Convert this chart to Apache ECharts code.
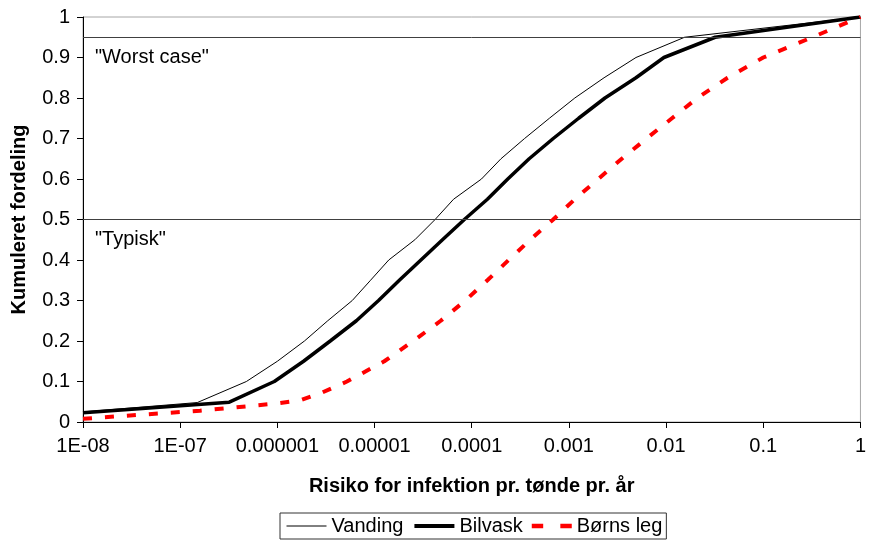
<!DOCTYPE html>
<html>
<head>
<meta charset="utf-8">
<script src="https://cdn.jsdelivr.net/npm/echarts@6/dist/echarts.min.js"></script>
<style>
html,body{margin:0;padding:0;background:#fff;}
#c{width:869px;height:542px;}
</style>
</head>
<body>
<div id="c"></div>
<script>
// Tick labels on the log x-axis (1E-08 ... 1)
var xTickLabels = ["1E-08","1E-07","0.000001","0.00001","0.0001","0.001","0.01","0.1","1"];

// Vanding
var vandingRisk = [1e-8,1.5e-7,4.8e-7,1e-6,1.9e-6,3.3e-6,5.9e-6,9.1e-6,1.4e-5,2.6e-5,4.2e-5,6.5e-5,1.26e-4,2.0e-4,3.5e-4,6.3e-4,1.15e-3,2.3e-3,4.9e-3,1.55e-2,1];
var vandingCum  = [0.025,0.048,0.1,0.15,0.2,0.25,0.3,0.35,0.4,0.45,0.5,0.55,0.6,0.65,0.7,0.75,0.8,0.85,0.9,0.95,1];

// Bilvask
var bilvaskRisk = [1e-8,3.2e-7,9.3e-7,1.86e-6,3.5e-6,6.5e-6,1.1e-5,1.8e-5,3.0e-5,5.0e-5,8.4e-5,1.45e-4,2.35e-4,3.9e-4,6.9e-4,1.26e-3,2.35e-3,4.9e-3,9.5e-3,3.2e-2,1];
var bilvaskCum  = [0.023,0.049,0.1,0.15,0.2,0.25,0.3,0.35,0.4,0.45,0.5,0.55,0.6,0.65,0.7,0.75,0.8,0.85,0.9,0.95,1];

// Børns leg
var bornsRisk = [1e-8,1.6e-7,3.7e-7,1e-6,1.75e-6,2.9e-6,5.2e-6,1.26e-5,2.5e-5,4.8e-5,8.6e-5,1.45e-4,2.4e-4,4.0e-4,6.9e-4,1.15e-3,2.0e-3,3.5e-3,6.3e-3,1.15e-2,2.1e-2,4.3e-2,0.1,0.32,1];
var bornsCum  = [0.008,0.028,0.036,0.046,0.054,0.073,0.1,0.15,0.2,0.25,0.3,0.35,0.4,0.45,0.5,0.55,0.6,0.65,0.7,0.75,0.8,0.85,0.9,0.95,1];

// Reference levels
var refLevels = [0.95, 0.5];
var refNames  = ['"Worst case"', '"Typisk"'];

function zip(xs, ys){ return xs.map(function(x,i){ return [x, ys[i]]; }); }

var FONT = 'Liberation Sans, Arial, sans-serif';
var chart = echarts.init(document.getElementById('c'), null, {renderer:'canvas'});
chart.setOption({
  animation:false,
  backgroundColor:'#fff',
  textStyle:{fontFamily:FONT},
  grid:{left:83,right:5,top:17,bottom:120,show:true,borderColor:'#a6a6a6',borderWidth:1,backgroundColor:'transparent'},
  xAxis:{
    type:'log', logBase:10, min:1e-8, max:1,
    name:'Risiko for infektion pr. tønde pr. år',
    nameLocation:'middle', nameGap:54,
    nameTextStyle:{fontSize:20,fontWeight:'bold',color:'#000',fontFamily:FONT},
    axisLine:{lineStyle:{color:'#000',width:1}},
    axisTick:{show:true,length:6,inside:false,lineStyle:{color:'#000'}},
    minorTick:{show:false},
    splitLine:{show:false},
    axisLabel:{
      fontSize:20,color:'#000',margin:14,fontFamily:FONT,
      formatter:function(v){ var e=Math.round(Math.log10(v)); return xTickLabels[e+8]; }
    }
  },
  yAxis:{
    type:'value', min:0, max:1, interval:0.1,
    name:'Kumuleret fordeling',
    nameLocation:'middle', nameGap:54,
    nameTextStyle:{fontSize:20,fontWeight:'bold',color:'#000',fontFamily:FONT},
    axisLine:{show:true,lineStyle:{color:'#000',width:1}},
    axisTick:{show:true,length:6,inside:false,lineStyle:{color:'#000'}},
    splitLine:{show:false},
    axisLabel:{fontSize:20,color:'#000',margin:13,fontFamily:FONT,
      formatter:function(v){ return String(Math.round(v*10)/10); }}
  },
  legend:{
    data:[
      {name:'Vanding', lineStyle:{width:1,color:'#000'}},
      {name:'Bilvask', lineStyle:{width:4,color:'#000'}},
      {name:'Børns leg', icon:'path://M0,0h10v4h-10zM25,0h10v4h-10z', itemStyle:{opacity:1,color:'#ff0000'}}
    ],
    left:280, top:513,
    orient:'horizontal',
    itemWidth:40, itemHeight:14, itemGap:9,
    padding:[3,4,3,6],
    borderColor:'#333', borderWidth:1,
    itemStyle:{opacity:0},
    textStyle:{fontSize:20,color:'#000',fontFamily:FONT}
  },
  series:[
    {
      name:'Vanding', type:'line', symbol:'none', z:3,
      data:zip(vandingRisk, vandingCum),
      lineStyle:{color:'#000',width:1},
      itemStyle:{color:'#000'},
      markLine:{
        silent:true, symbol:'none', animation:false,
        lineStyle:{color:'#404040',width:1,type:'solid'},
        label:{show:true,position:'insideStartBottom',distance:[12,10],
          color:'#000',fontSize:20,fontFamily:FONT,
          formatter:function(p){ return refNames[refLevels.indexOf(p.value)]; }},
        data:refLevels.map(function(v){ return {yAxis:v}; })
      }
    },
    {
      name:'Bilvask', type:'line', symbol:'none', z:4,
      data:zip(bilvaskRisk, bilvaskCum),
      lineStyle:{color:'#000',width:3.5},
      itemStyle:{color:'#000'}
    },
    {
      name:'Børns leg', type:'line', symbol:'none', z:5,
      data:zip(bornsRisk, bornsCum),
      lineStyle:{color:'#ff0000',width:4,type:[9,13]},
      itemStyle:{color:'#ff0000'}
    }
  ]
});
</script>
</body>
</html>
